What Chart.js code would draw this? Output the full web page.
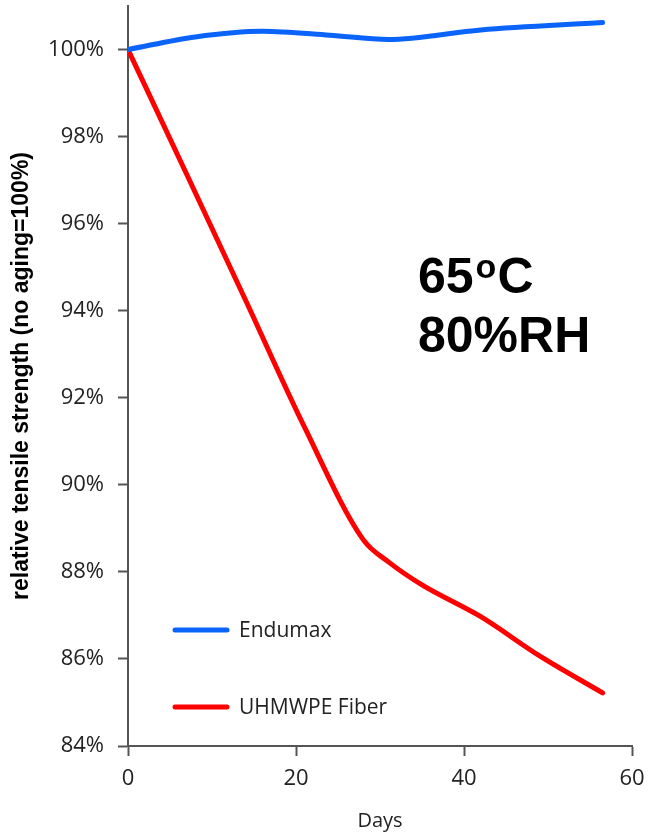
<!DOCTYPE html>
<html>
<head>
<meta charset="utf-8">
<script src="https://cdn.jsdelivr.net/npm/chart.js@4/dist/chart.umd.min.js"></script>
<style>
  html, body { margin: 0; padding: 0; background: #fff; }
  #wrap { width: 650px; height: 833px; position: relative; }
</style>
</head>
<body>
<div id="wrap"><canvas id="agingChart"></canvas></div>
<script>
// data
const endumaxDays = [0, 8, 16, 24, 31, 42, 56.5];
const endumaxValues = [100, 100.29, 100.42, 100.33, 100.23, 100.45, 100.62];
const fiberDays = [0, 7, 14, 21, 28, 31, 35, 42, 49, 56.5];
const fiberValues = [100, 97.13, 94.24, 91.33, 88.74, 88.23, 87.70, 86.97, 86.07, 85.22];
const seriesNames = ['Endumax', 'UHMWPE Fiber'];
const seriesColors = ['#0a64fa', '#ff0000'];
const yTickValues = [84, 86, 88, 90, 92, 94, 96, 98, 100];
const xTickValues = [0, 20, 40, 60];
const tempParts = ['65', 'o', 'C'];
const humidityText = '80%RH';

const sans = "'Open Sans', sans-serif";
const bold = "'Liberation Sans', Arial, sans-serif";
const textColor = '#222';
const axisColor = '#555';

function toPoints(xs, ys) {
  return xs.map((x, i) => ({ x: x, y: ys[i] }));
}

// legend drawn inside the plot area
const insideLegend = {
  id: 'insideLegend',
  afterDatasetsDraw(chart) {
    const ctx = chart.ctx;
    const area = chart.chartArea;
    ctx.save();
    ctx.font = '21px ' + sans;
    ctx.textBaseline = 'middle';
    ctx.lineCap = 'round';
    chart.data.datasets.forEach((ds, i) => {
      const y = area.top + 624 + i * 77;
      ctx.strokeStyle = ds.borderColor;
      ctx.lineWidth = 5;
      ctx.beginPath();
      ctx.moveTo(area.left + 47, y);
      ctx.lineTo(area.left + 99, y);
      ctx.stroke();
      ctx.fillStyle = textColor;
      ctx.fillText(ds.label, area.left + 111, y + 1);
    });
    ctx.restore();
  }
};

// the test condition text
const conditionLabel = {
  id: 'conditionLabel',
  afterDatasetsDraw(chart) {
    const ctx = chart.ctx;
    const area = chart.chartArea;
    const x0 = area.left + 290;
    ctx.save();
    ctx.fillStyle = '#000';
    ctx.textBaseline = 'alphabetic';
    ctx.font = 'bold 50px ' + bold;
    ctx.fillText(tempParts[0], x0, area.top + 287);
    let x = x0 + ctx.measureText(tempParts[0]).width + 2;
    ctx.font = 'bold 34px ' + bold;
    ctx.fillText(tempParts[1], x, area.top + 272);
    x += ctx.measureText(tempParts[1]).width + 1;
    ctx.font = 'bold 50px ' + bold;
    ctx.fillText(tempParts[2], x, area.top + 287);
    ctx.fillText(humidityText, x0, area.top + 346);
    ctx.restore();
  }
};

const ctx = document.getElementById('agingChart').getContext('2d');
new Chart(ctx, {
  type: 'line',
  data: {
    datasets: [
      { label: seriesNames[0], data: toPoints(endumaxDays, endumaxValues), borderColor: seriesColors[0] },
      { label: seriesNames[1], data: toPoints(fiberDays, fiberValues), borderColor: seriesColors[1] }
    ]
  },
  options: {
    responsive: true,
    maintainAspectRatio: false,
    animation: false,
    layout: { autoPadding: false, padding: { top: 6, right: 18, bottom: 0, left: 0 } },
    elements: {
      line: { borderWidth: 5, cubicInterpolationMode: 'monotone', fill: false, borderCapStyle: 'round' },
      point: { radius: 0, hoverRadius: 0 }
    },
    plugins: {
      legend: { display: false },
      tooltip: { enabled: false }
    },
    scales: {
      x: {
        type: 'linear',
        min: 0,
        max: 60,
        afterBuildTicks: s => { s.ticks = xTickValues.map(v => ({ value: v })); },
        afterFit: s => { s.height = 87; s.paddingLeft = 0; s.paddingRight = 0; },
        ticks: { color: textColor, font: { family: sans, size: 22 }, padding: 10, maxRotation: 0 },
        grid: { drawOnChartArea: false, drawTicks: true, tickLength: 10, tickColor: axisColor, tickWidth: 2 },
        border: { color: axisColor, width: 2 },
        title: { display: true, text: 'Days', color: textColor, font: { family: sans, size: 20 }, padding: { top: 0, bottom: 0 } }
      },
      y: {
        min: 84,
        max: 101,
        afterBuildTicks: s => { s.ticks = yTickValues.map(v => ({ value: v })); },
        afterFit: s => { s.width = 128; s.paddingTop = 0; s.paddingBottom = 0; },
        ticks: { color: textColor, font: { family: sans, size: 22 }, padding: 14, callback: v => v + '%' },
        grid: { drawOnChartArea: false, drawTicks: true, tickLength: 10, tickColor: axisColor, tickWidth: 2 },
        border: { color: axisColor, width: 2 },
        title: {
          display: true,
          text: 'relative tensile strength (no aging=100%)',
          color: '#000',
          font: { family: bold, size: 23, weight: 'bold' },
          padding: { top: 8, bottom: 0 }
        }
      }
    }
  },
  plugins: [insideLegend, conditionLabel]
});
</script>
</body>
</html>
